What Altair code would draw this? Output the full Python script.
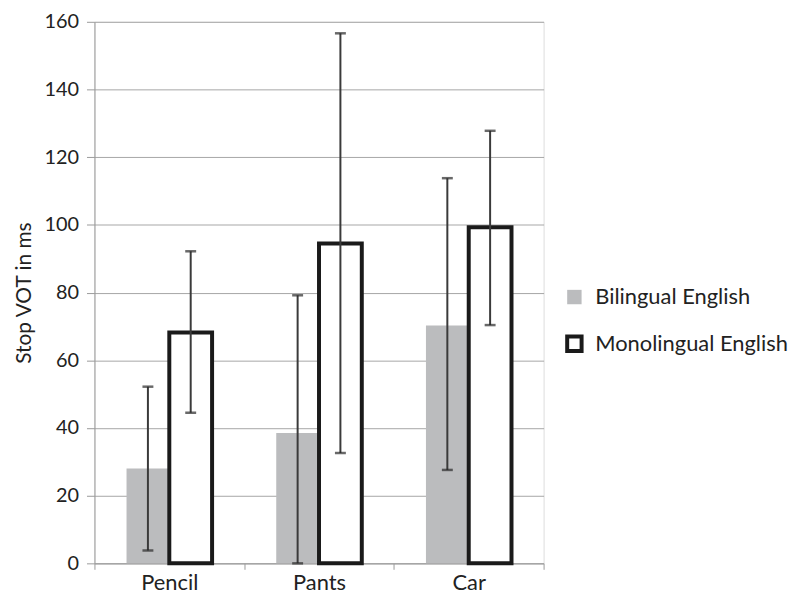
import altair as alt
import pandas as pd

categories = ["Pencil", "Pants", "Car"]
series = ["Bilingual English", "Monolingual English"]
bilingual = [28.0, 38.5, 70.3]
monolingual = [68.2, 94.5, 99.3]
bil_low = [3.8, 0.0, 27.6]
bil_high = [52.2, 79.2, 113.8]
mono_low = [44.5, 32.6, 70.4]
mono_high = [92.2, 156.6, 127.8]

rows = []
for i, c in enumerate(categories):
    rows.append({"cat": c, "grp": series[0], "val": bilingual[i], "lo": bil_low[i], "hi": bil_high[i]})
    rows.append({"cat": c, "grp": series[1], "val": monolingual[i], "lo": mono_low[i], "hi": mono_high[i]})
df = pd.DataFrame(rows)

FONT = "Lato"

x = alt.X("cat:N", sort=categories, title=None,
          scale=alt.Scale(paddingInner=0, paddingOuter=0),
          axis=alt.Axis(labelAngle=0, tickBand="extent", domainColor="#9a9a9a",
                        tickColor="#9a9a9a", tickSize=6, labelPadding=3,
                        labelFontSize=22, labelColor="#222222", labelFont=FONT))
xoff = alt.XOffset("grp:N", sort=series, scale=alt.Scale(paddingOuter=0.75, paddingInner=0))

bars = alt.Chart(df).mark_bar(strokeWidth=4, strokeJoin="miter").encode(
    x=x,
    xOffset=xoff,
    y=alt.Y("val:Q", title="Stop VOT in ms",
            scale=alt.Scale(domain=[0, 160], nice=False),
            axis=alt.Axis(values=list(range(0, 161, 20)), gridColor="#a6a6a6",
                          domainColor="#9a9a9a", tickColor="#9a9a9a", tickSize=8,
                          labelPadding=8, labelFontSize=20, labelColor="#222222",
                          labelFont=FONT, titleFont=FONT, titleFontSize=21,
                          titleFontWeight="normal", titleColor="#222222", titlePadding=10)),
    fill=alt.Fill("grp:N", sort=series, title=None,
                  scale=alt.Scale(domain=series, range=["#bbbcbe", "#ffffff"]),
                  legend=alt.Legend(orient="none", legendX=472, legendY=266,
                                    labelFont=FONT, labelFontSize=22, labelColor="#222222",
                                    labelLimit=300,
                                    symbolType="square", symbolSize=210,
                                    symbolStrokeWidth=4, rowPadding=15, labelOffset=10)),
    stroke=alt.Stroke("grp:N", sort=series, title=None,
                      scale=alt.Scale(domain=series, range=["transparent", "#1a1a1a"])),
)

rules = alt.Chart(df).mark_rule(color="#3a3a3a", strokeWidth=2).encode(
    x=alt.X("cat:N", sort=categories),
    xOffset=xoff,
    y="lo:Q",
    y2="hi:Q",
)

caps_lo = alt.Chart(df).mark_tick(color="#2a2a2a", thickness=2.5, size=11).encode(
    x=alt.X("cat:N", sort=categories),
    xOffset=xoff,
    y="lo:Q",
)
caps_hi = alt.Chart(df).mark_tick(color="#2a2a2a", thickness=2.5, size=11).encode(
    x=alt.X("cat:N", sort=categories),
    xOffset=xoff,
    y="hi:Q",
)

chart = alt.layer(bars, rules, caps_lo, caps_hi).properties(
    width=452, height=545,
    autosize=alt.AutoSizeParams(type="none"),
    padding={"left": 87, "top": 12, "right": 250, "bottom": 37},
).configure_view(stroke=None).configure(background="white")

chart.save("out.html", embed_options={"renderer": "svg", "actions": False})
